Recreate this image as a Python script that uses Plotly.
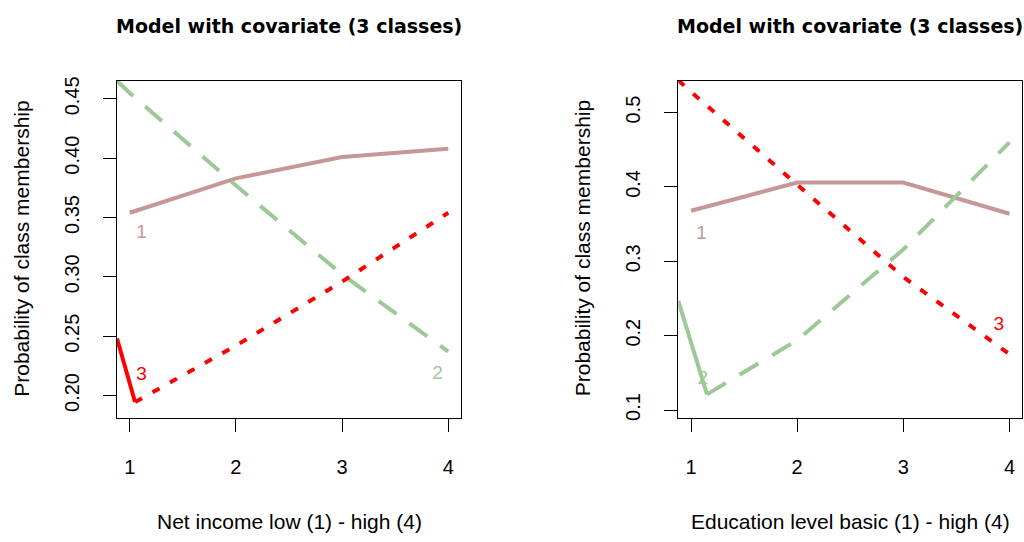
import plotly.graph_objects as go

# ---------------- data ----------------
x_levels = [1, 2, 3, 4]
x_tick_labels = ["1", "2", "3", "4"]

# Left panel: net income
inc_c1_x = [1, 2, 3, 4]
inc_c1_y = [0.354, 0.383, 0.401, 0.408]
inc_c2_x = [0.88, 1, 2, 3, 4]
inc_c2_y = [0.465, 0.455, 0.377, 0.302, 0.237]
inc_c3_x = [1.05, 2, 3, 4]
inc_c3_y = [0.1945, 0.242, 0.296, 0.354]
inc_c3_lead_x = [0.88, 1.05]
inc_c3_lead_y = [0.248, 0.1945]
inc_yticks = [0.20, 0.25, 0.30, 0.35, 0.40, 0.45]
inc_yrange = [0.1814, 0.4653]

# Right panel: education
edu_c1_x = [1, 2, 3, 4]
edu_c1_y = [0.368, 0.406, 0.406, 0.364]
edu_c2_x = [1.15, 2, 3, 4]
edu_c2_y = [0.121, 0.194, 0.316, 0.46]
edu_c2_lead_x = [0.88, 1.15]
edu_c2_lead_y = [0.2467, 0.121]
edu_c3_x = [0.88, 1, 2, 3, 4]
edu_c3_y = [0.5435, 0.528, 0.403, 0.279, 0.175]
edu_yticks = [0.1, 0.2, 0.3, 0.4, 0.5]
edu_yrange = [0.0898, 0.5429]

# class labels (text, x, y)
inc_labels = [("1", 1.11, 0.337), ("3", 1.11, 0.2167), ("2", 3.90, 0.2175)]
edu_labels = [("1", 1.10, 0.336), ("2", 1.11, 0.141), ("3", 3.90, 0.2145)]

panel_title = "Model with covariate (3 classes)"
y_title = "Probability of class membership"
inc_x_title = "Net income low (1) - high (4)"
edu_x_title = "Education level basic (1) - high (4)"

# ---------------- style ----------------
PINK = "#C69797"
GREEN = "#9DC898"
RED = "#FF0000"
LW = 4
DASH = "22px,16px"
DOT = "8px,12px"
FONT = "Liberation Sans, Arial, sans-serif"

fig = go.Figure()

def add_line(x, y, color, dash, xa, ya):
    fig.add_trace(go.Scatter(x=x, y=y, mode="lines", xaxis=xa, yaxis=ya,
                             line=dict(color=color, width=LW, dash=dash),
                             showlegend=False, hoverinfo="skip"))

# left panel
add_line(inc_c1_x, inc_c1_y, PINK, "solid", "x", "y")
add_line(inc_c2_x, inc_c2_y, GREEN, DASH, "x", "y")
add_line(inc_c3_lead_x, inc_c3_lead_y, RED, "solid", "x", "y")
add_line(inc_c3_x, inc_c3_y, RED, DOT, "x", "y")
# right panel
add_line(edu_c1_x, edu_c1_y, PINK, "solid", "x2", "y2")
add_line(edu_c2_lead_x, edu_c2_lead_y, GREEN, "solid", "x2", "y2")
add_line(edu_c2_x, edu_c2_y, GREEN, DASH, "x2", "y2")
add_line(edu_c3_x, edu_c3_y, RED, DOT, "x2", "y2")

label_colors = {"1": PINK, "2": GREEN, "3": RED}
for labels, xa, ya in [(inc_labels, "x", "y"), (edu_labels, "x2", "y2")]:
    fig.add_trace(go.Scatter(
        x=[l[1] for l in labels], y=[l[2] for l in labels],
        text=[l[0] for l in labels], mode="text", xaxis=xa, yaxis=ya,
        textfont=dict(family=FONT, size=19, color=[label_colors[l[0]] for l in labels]),
        showlegend=False, hoverinfo="skip"))

common_x = dict(range=[0.88, 4.12], tickvals=x_levels, ticktext=x_tick_labels,
                showline=True, mirror=True, linecolor="black", linewidth=1,
                ticks="outside", ticklen=13, tickcolor="black", tickwidth=1,
                showgrid=False, zeroline=False, ticklabelstandoff=18,
                tickfont=dict(family=FONT, size=20, color="black"))
common_y = dict(showline=True, mirror=True, linecolor="black", linewidth=1,
                ticks="outside", ticklen=13, tickcolor="black", tickwidth=1,
                showgrid=False, zeroline=False, tickangle=-90, ticklabelstandoff=16,
                tickfont=dict(family=FONT, size=20, color="black"))

ydom = [123 / 542, 464.3 / 542]
fig.update_layout(
    width=1024, height=542,
    margin=dict(l=0, r=0, t=0, b=0),
    paper_bgcolor="white", plot_bgcolor="white",
    xaxis=dict(domain=[117 / 1024, 461 / 1024], anchor="y", **common_x),
    yaxis=dict(domain=ydom, anchor="x", range=inc_yrange, tickvals=inc_yticks,
               tickformat=".2f", **common_y),
    xaxis2=dict(domain=[678.3 / 1024, 1022.2 / 1024], anchor="y2", **common_x),
    yaxis2=dict(domain=ydom, anchor="x2", range=edu_yrange, tickvals=edu_yticks,
                tickformat=".1f", **common_y),
)

annos = []
for cx, yx, xt in [((117 + 461) / 2, 22, inc_x_title), ((678.3 + 1022.2) / 2, 582.5, edu_x_title)]:
    annos.append(dict(text="<b>" + panel_title + "</b>", x=cx / 1024, y=1 - 22 / 542,
                      xref="paper", yref="paper", showarrow=False,
                      xanchor="center", yanchor="middle",
                      font=dict(family="DejaVu Sans, sans-serif", size=19, color="black")))
    annos.append(dict(text=xt, x=cx / 1024, y=1 - 524 / 542, xref="paper", yref="paper",
                      showarrow=False, xanchor="center", yanchor="middle",
                      font=dict(family=FONT, size=21, color="black")))
    annos.append(dict(text=y_title, x=yx / 1024, y=1 - 248 / 542, xref="paper", yref="paper",
                      showarrow=False, xanchor="center", yanchor="middle", textangle=-90,
                      font=dict(family=FONT, size=21, color="black")))
fig.update_layout(annotations=annos)

fig.write_html("out.html")
